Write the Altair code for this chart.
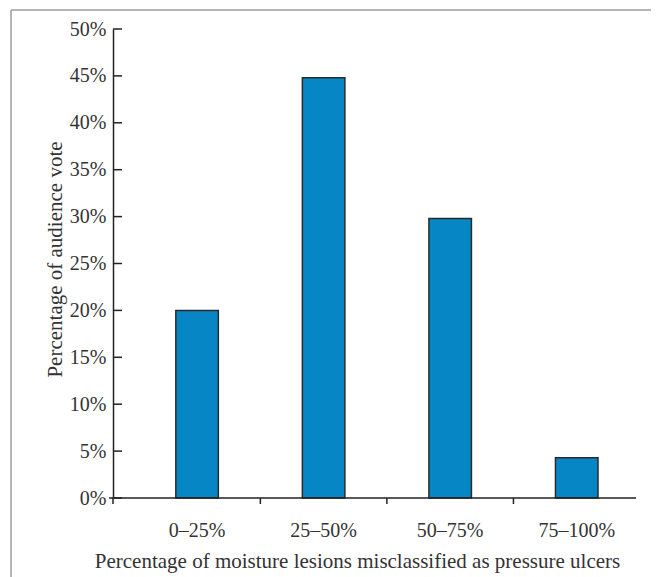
import altair as alt
import pandas as pd

categories = ["0–25%", "25–50%", "50–75%", "75–100%"]
votes = [20.0, 44.8, 29.8, 4.3]
y_ticks = [0, 5, 10, 15, 20, 25, 30, 35, 40, 45, 50]
x_title = "Percentage of moisture lesions misclassified as pressure ulcers"
y_title = "Percentage of audience vote"

W, H = 527, 469
AXIS_LEN = 523
FONT = "Liberation Serif"
INK = "#222222"
TXT = "#333333"

df = pd.DataFrame({"cat": categories, "vote": votes})
ticks_df = pd.DataFrame({"vote": y_ticks})
bound_df = pd.DataFrame({"cat": categories[:-1]})
one_df = pd.DataFrame({"a": [0]})

xscale = alt.Scale(domain=categories, paddingInner=0, paddingOuter=0.0822, align=1, round=False)
yscale = alt.Scale(domain=[0, 50], nice=False)

xaxis = alt.Axis(
    title=x_title, ticks=False, domain=False, labelAngle=0,
    labelPadding=22, titlePadding=10, titleX=244, titleAlign="center")
yaxis = alt.Axis(
    title=y_title, values=y_ticks, labelExpr="datum.value + '%'", ticks=False, grid=False,
    domainColor=INK, domainWidth=1.5, labelPadding=7, titlePadding=4,
    titleY=230, titleAlign="center")

bars = alt.Chart(df).mark_bar(
    width=alt.RelativeBandSize(0.336), color="#0786C6", stroke="#2a2a2a", strokeWidth=1.5
).encode(
    x=alt.X("cat:N", scale=xscale, axis=xaxis),
    y=alt.Y("vote:Q", scale=yscale, axis=yaxis),
)

xt = alt.Chart(bound_df).mark_rule(color=INK, strokeWidth=1.5).encode(
    x=alt.X("cat:N", scale=xscale, bandPosition=1, axis=xaxis),
    y=alt.value(H), y2=alt.value(H + 6),
)

yt = alt.Chart(ticks_df).mark_rule(color=INK, strokeWidth=1.5).encode(
    y=alt.Y("vote:Q", scale=yscale, axis=yaxis),
    x=alt.value(0), x2=alt.value(9),
)

x_line = alt.Chart(one_df).mark_rule(color=INK, strokeWidth=1.5).encode(
    x=alt.value(-4), x2=alt.value(AXIS_LEN), y=alt.value(H),
)

corner = alt.Chart(one_df).mark_rule(color=INK, strokeWidth=1.5).encode(
    x=alt.value(0), y=alt.value(H), y2=alt.value(H + 6),
)

frame_left = alt.Chart(one_df).mark_rule(color="#9c9c9c", strokeWidth=1.5).encode(
    x=alt.value(-102), y=alt.value(-19), y2=alt.value(H + 120),
)
frame_top = alt.Chart(one_df).mark_rule(color="#9c9c9c", strokeWidth=1.5).encode(
    x=alt.value(-102), x2=alt.value(W + 40), y=alt.value(-19),
)

chart = alt.layer(bars, xt, yt, x_line, corner, frame_left, frame_top).properties(
    width=W, height=H,
    autosize=alt.AutoSizeParams(type="none"),
    padding={"left": 105, "top": 21, "right": 11, "bottom": 79},
).configure_view(stroke="transparent").configure_axis(
    labelFont=FONT, labelFontSize=20, labelColor=TXT,
    titleFont=FONT, titleFontSize=21, titleColor=TXT, titleFontWeight="normal",
)

chart.save("out.html", embed_options={"renderer": "svg", "actions": False})
